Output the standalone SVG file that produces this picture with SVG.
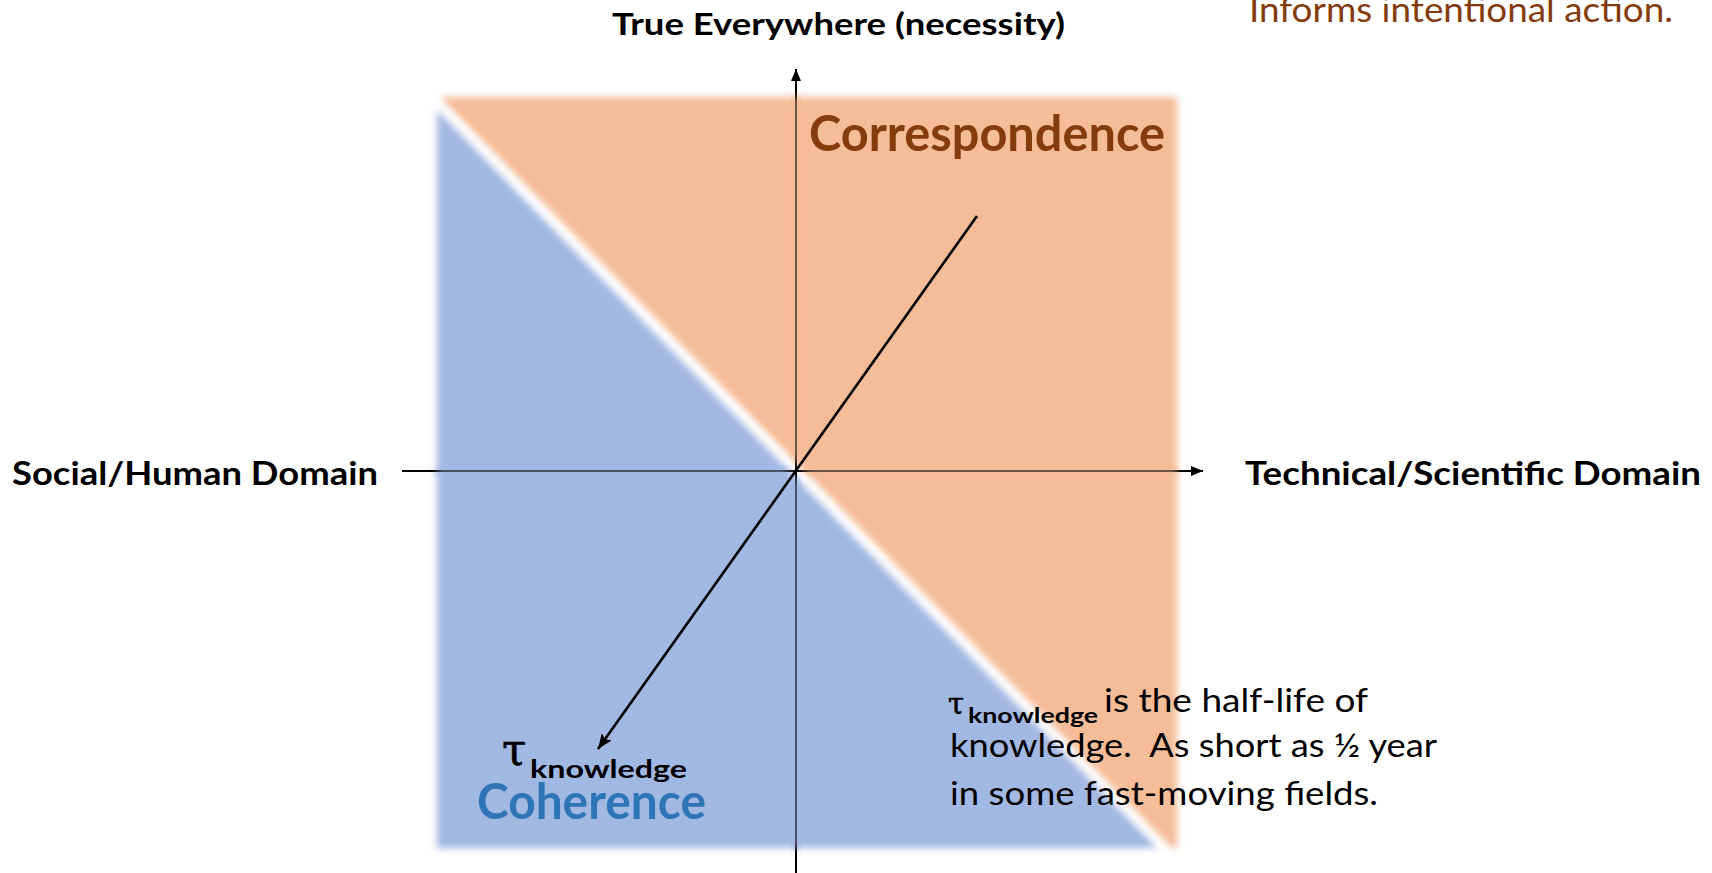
<svg xmlns="http://www.w3.org/2000/svg" xmlns:xlink="http://www.w3.org/1999/xlink" width="1712" height="873" viewBox="0 0 1712 873">
  <style>
    .lbl { font-family: Lato, "Open Sans", "Liberation Sans", sans-serif; }
    .b { font-weight: bold; }
    .blk { fill: #000000; }
    .brown { fill: #843C0C; }
    .blue { fill: #2E75B6; }
    .tau { font-family: "DejaVu Serif", "Liberation Serif", serif; fill: #000000; stroke: #000000; stroke-width: 0.6; }
    .axis { stroke: #000000; stroke-width: 2; fill: none; }
    .diag { stroke: #000000; stroke-width: 2.6; fill: none; }
  </style>
  <defs>
    <filter id="soft" x="-5%" y="-5%" width="110%" height="110%">
      <feGaussianBlur stdDeviation="3.5"/>
    </filter>
    <marker id="ah" markerUnits="userSpaceOnUse" markerWidth="14" markerHeight="12" refX="12" refY="5" orient="auto">
      <path d="M0,0 L12,5 L0,10 Z" fill="#000000"/>
    </marker>
    <marker id="ahd" markerUnits="userSpaceOnUse" markerWidth="18" markerHeight="14" refX="15" refY="6" orient="auto">
      <path d="M0,0 L15,6 L0,12 L3,6 Z" fill="#000000"/>
    </marker>
    <clipPath id="axclip">
      <rect x="790" y="60" width="12" height="813"/>
      <rect x="395" y="465" width="815" height="12"/>
    </clipPath>
  </defs>

  <rect x="0" y="0" width="1712" height="873" fill="#ffffff"/>

  <g id="regions" filter="url(#soft)">
    <polygon id="orange-region" points="440,97 1177,97 1177,848 1172,848" fill="#F5BC98"/>
    <polygon id="blue-region" points="437,110 437,848 1157,848" fill="#A1B8E2"/>
  </g>

  <g id="connectors">
    <line id="axis-x" class="axis" x1="402" y1="471" x2="1203" y2="471" marker-end="url(#ah)"/>
    <line id="axis-y" class="axis" x1="796" y1="873" x2="796" y2="69" marker-end="url(#ah)"/>
    <use xlink:href="#regions" href="#regions" opacity="0.45" clip-path="url(#axclip)"/>
    <line id="tau-arrow" class="diag" x1="977" y1="216" x2="598" y2="749" marker-end="url(#ahd)"/>
  </g>

  <g id="node-title">
    <text class="lbl b blk" x="612" y="35" font-size="30" textLength="453" lengthAdjust="spacingAndGlyphs">True Everywhere (necessity)</text>
  </g>
  <g id="node-informs">
    <text class="lbl brown" x="1249" y="22" font-size="34" textLength="424" lengthAdjust="spacingAndGlyphs">Informs intentional action.</text>
  </g>
  <g id="node-social">
    <text class="lbl b blk" x="12" y="485" font-size="32" textLength="366" lengthAdjust="spacingAndGlyphs">Social/Human Domain</text>
  </g>
  <g id="node-technical">
    <text class="lbl b blk" x="1245" y="485" font-size="32" textLength="456" lengthAdjust="spacingAndGlyphs">Technical/Scientific Domain</text>
  </g>
  <g id="node-correspondence">
    <text class="lbl b brown" x="809" y="151" font-size="49" textLength="356" lengthAdjust="spacingAndGlyphs">Correspondence</text>
  </g>
  <g id="node-coherence">
    <text class="lbl b blue" x="477" y="819" font-size="49" textLength="229" lengthAdjust="spacingAndGlyphs">Coherence</text>
  </g>
  <g id="node-tau-label">
    <text class="tau" x="502" y="765" font-size="44">τ</text>
    <text class="lbl b blk" x="530" y="778" font-size="25" textLength="157" lengthAdjust="spacingAndGlyphs">knowledge</text>
  </g>
  <g id="node-note">
    <text class="tau" x="948" y="714" font-size="29">τ</text>
    <text class="lbl b blk" x="968" y="723" font-size="21" textLength="130" lengthAdjust="spacingAndGlyphs">knowledge</text>
    <text class="lbl blk" x="1104" y="712" font-size="33" textLength="264" lengthAdjust="spacingAndGlyphs">is the half-life of</text>
    <text class="lbl blk" x="950" y="757" font-size="33" textLength="487" lengthAdjust="spacingAndGlyphs" xml:space="preserve">knowledge.  As short as ½ year</text>
    <text class="lbl blk" x="950" y="805" font-size="33" textLength="428" lengthAdjust="spacingAndGlyphs">in some fast-moving fields.</text>
  </g>
</svg>
